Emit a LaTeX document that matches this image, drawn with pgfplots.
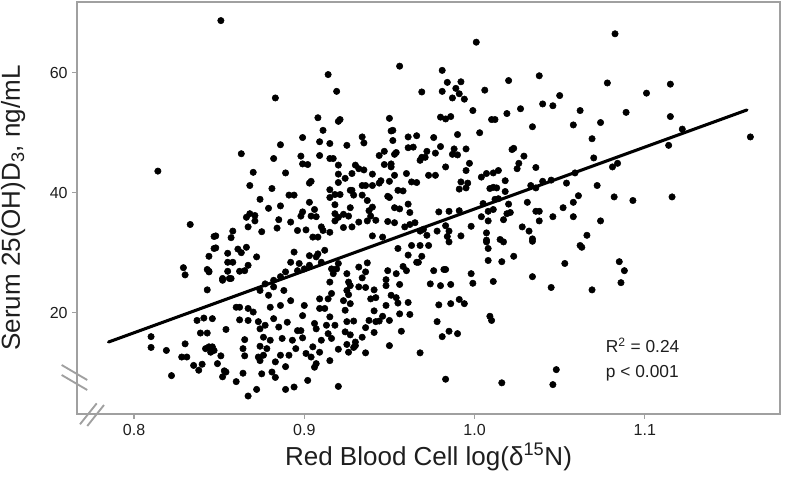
\documentclass[border=0pt]{standalone}
\usepackage{pgfplots}
\pgfplotsset{compat=1.18}
\usepackage{pgfplotstable}
\usepackage{fontspec}
\setmainfont{Liberation Sans}
\definecolor{axgray}{RGB}{160,160,160}
\definecolor{txt}{RGB}{30,30,30}
\pgfplotstableread{
x y
1.0825 66.5
1.001 65.1
0.956 61.1
0.914 59.7
0.981 60.4
1.038 59.5
0.883 55.8
0.919 56.9
0.984 58.4
0.992 58.5
0.981 56.9
0.989 57.4
0.991 56.5
0.987 55.8
0.994 55.6
0.969 56.8
1.006 57.1
1.020 58.7
1.078 58.3
1.115 58.1
1.101 56.6
1.050 56.2
1.040 54.8
1.046 54.5
1.027 54.0
1.019 53.2
0.999 53.7
1.062 53.7
1.089 53.4
1.115 52.7
1.074 51.7
1.058 51.3
1.034 51.0
1.010 52.2
1.012 52.2
0.980 52.6
0.983 52.3
0.986 52.7
0.950 52.4
0.920 51.9
0.921 52.2
0.908 52.5
0.886 48.0
0.882 45.7
0.899 49.2
0.911 50.4
0.909 48.5
0.915 48.2
0.925 47.9
0.909 46.2
0.915 45.7
0.917 45.7
0.898 46.1
0.899 44.8
0.902 44.7
0.920 44.6
0.889 43.3
0.881 40.7
0.874 38.9
0.891 39.6
0.894 39.6
0.904 41.9
0.903 41.6
0.920 43.1
0.920 41.7
0.924 42.4
0.928 43.2
0.930 44.6
0.932 44.0
0.935 43.8
0.934 49.3
0.935 48.3
0.940 43.1
0.934 41.2
0.936 41.2
0.927 40.4
0.928 40.4
0.915 40.5
0.918 39.7
0.940 41.2
0.944 46.2
0.947 46.9
0.951 50.3
0.952 50.4
0.952 48.7
0.947 44.7
0.951 44.8
0.951 44.3
0.953 46.4
0.954 46.7
0.950 41.9
0.953 42.9
0.945 42.0
0.944 41.6
0.961 49.3
0.966 49.5
0.976 49.2
0.961 47.5
0.964 47.6
0.969 45.9
0.968 45.4
0.971 45.9
0.980 47.7
0.977 46.6
0.972 46.9
0.960 43.2
0.963 41.8
0.966 41.7
0.983 44.3
0.973 42.9
0.977 42.9
0.987 46.4
0.990 46.3
0.988 47.3
0.995 47.3
0.990 49.7
0.997 44.9
0.995 43.7
0.992 41.8
0.996 41.6
0.995 40.8
0.991 40.6
1.003 50.0
1.023 47.4
1.022 47.2
1.029 46.1
1.026 44.9
1.025 44.0
1.036 44.2
1.004 42.6
1.007 43.2
1.011 43.3
1.014 43.7
1.018 42.0
1.009 40.7
1.011 40.9
1.013 40.8
1.018 40.2
1.033 41.2
1.036 40.8
1.040 41.9
1.045 42.1
1.054 41.6
1.059 43.3
1.070 45.8
1.069 49.0
1.072 41.2
1.081 44.3
1.084 44.9
1.114 47.9
1.122 50.6
1.162 49.3
1.082 39.3
1.093 38.7
1.116 39.3
1.061 39.5
1.058 38.4
1.058 36.0
1.052 37.5
1.046 36.0
1.038 36.9
1.036 36.9
1.038 35.3
1.031 38.4
1.032 33.6
1.028 34.3
1.020 38.1
1.021 36.7
1.019 36.5
1.014 39.0
1.012 38.9
1.017 35.5
1.011 37.2
1.008 36.9
1.008 35.3
1.004 36.0
1.007 33.3
1.015 32.2
1.007 32.1
0.998 34.4
1.005 38.2
0.991 37.0
0.985 36.9
0.979 36.8
0.992 32.8
0.983 34.5
0.985 33.6
0.984 32.7
0.978 33.6
1.066 32.9
1.074 35.3
1.034 32.3
0.965 35.0
0.962 34.7
0.959 34.3
0.970 33.9
0.972 32.9
0.968 33.6
0.953 37.5
0.956 37.3
0.955 40.4
0.958 40.3
0.961 38.1
0.962 36.7
0.953 35.0
0.949 35.2
0.950 39.2
0.949 39.4
0.940 37.6
0.938 37.0
0.939 36.1
0.937 35.3
0.929 39.6
0.934 39.6
0.937 38.7
0.932 35.1
0.928 34.3
0.926 36.1
0.927 37.5
0.921 39.7
0.918 38.0
0.918 36.5
0.923 36.4
0.920 35.9
0.923 34.2
0.918 35.3
0.915 39.2
0.910 34.3
0.911 33.7
0.907 36.0
0.906 37.2
0.903 38.4
0.899 36.8
0.898 36.1
0.904 36.1
0.892 35.1
0.896 33.7
0.885 35.5
0.884 34.1
0.901 33.8
0.886 37.8
0.879 37.4
0.875 33.5
0.942 35.4
0.946 32.6
0.940 32.8
0.915 33.4
0.905 32.6
0.908 32.6
1.062 31.2
1.063 30.9
1.034 31.9
1.017 31.8
1.007 31.8
1.008 30.7
1.008 28.7
1.016 28.5
1.023 29.4
1.011 25.2
1.034 26.0
1.045 24.2
1.053 28.2
1.069 23.8
1.085 28.5
1.088 27.0
1.086 25.0
0.998 26.5
0.999 24.9
1.009 19.4
1.010 18.7
0.976 27.0
0.982 27.2
0.983 27.2
0.974 24.8
0.980 24.5
0.986 24.7
0.979 21.3
0.986 21.5
0.991 22.2
0.994 21.5
0.978 18.5
0.981 16.0
0.985 16.9
0.990 16.5
0.968 13.3
0.983 8.9
1.016 8.3
1.046 8.0
1.048 10.5
0.966 28.4
0.967 28.4
0.969 29.4
0.963 31.2
0.968 31.2
0.973 31.2
0.985 31.8
0.961 29.6
0.955 30.7
0.958 27.7
0.960 27.0
0.954 26.5
0.956 24.7
0.954 22.5
0.955 21.6
0.961 21.7
0.962 19.7
0.956 19.8
0.957 16.9
0.950 14.5
0.949 27.0
0.948 25.5
0.948 24.5
0.951 22.9
0.948 21.2
0.950 18.7
0.946 19.4
0.944 18.6
0.941 20.3
0.942 18.5
0.938 18.7
0.941 16.7
0.936 17.5
0.934 15.9
0.936 13.3
0.930 15.1
0.930 14.5
0.939 22.3
0.942 22.5
0.941 23.8
0.936 24.2
0.932 24.3
0.934 25.8
0.936 26.8
0.932 27.6
0.937 28.3
0.925 26.5
0.926 25.1
0.927 24.5
0.925 23.7
0.926 23.0
0.923 22.0
0.927 21.5
0.924 20.4
0.925 18.5
0.929 18.6
0.924 16.8
0.927 16.3
0.925 14.7
0.929 14.2
0.926 13.4
0.920 7.7
0.915 12.0
0.920 13.9
0.919 27.3
0.916 27.3
0.920 28.2
0.917 26.5
0.915 25.1
0.916 23.2
0.914 22.3
0.912 20.7
0.915 19.3
0.913 17.9
0.918 17.9
0.914 16.5
0.916 15.7
0.909 22.3
0.909 20.7
0.906 18.2
0.907 17.3
0.910 15.4
0.905 14.3
0.909 13.4
0.904 12.6
0.907 11.5
0.906 10.9
0.901 13.2
0.898 17.0
0.902 8.7
0.894 7.6
0.889 7.2
0.900 21.2
0.899 19.5
0.896 17.0
0.899 15.8
0.893 15.4
0.895 14.0
0.891 12.9
0.889 11.0
0.886 12.9
0.883 11.8
0.881 10.1
0.883 9.2
0.880 15.4
0.878 14.0
0.876 12.9
0.874 12.0
0.875 9.8
0.894 30.1
0.892 28.4
0.897 28.2
0.896 27.0
0.900 27.3
0.903 27.9
0.903 29.5
0.907 29.3
0.908 29.8
0.912 30.4
0.910 28.4
0.889 26.8
0.886 26.0
0.882 25.4
0.877 24.8
0.874 23.7
0.879 22.9
0.882 24.3
0.888 23.7
0.892 22.0
0.886 21.2
0.880 20.9
0.882 19.0
0.890 18.4
0.885 17.6
0.887 15.7
0.877 17.9
0.874 17.3
0.876 15.9
0.851 68.7
0.814 43.6
0.863 46.5
0.870 43.4
0.868 41.2
0.833 34.7
0.866 35.9
0.868 36.5
0.871 36.2
0.867 34.3
0.871 35.3
0.848 32.8
0.858 33.6
0.857 32.5
0.829 27.5
0.830 26.3
0.844 29.4
0.848 30.8
0.855 29.9
0.861 30.6
0.866 30.9
0.863 30.0
0.855 28.4
0.858 28.4
0.855 26.9
0.862 26.9
0.865 27.0
0.867 27.9
0.872 29.3
0.844 26.9
0.852 25.4
0.856 25.7
0.843 23.8
0.862 20.9
0.867 20.7
0.870 20.1
0.867 18.7
0.873 18.5
0.862 18.8
0.810 16.0
0.810 14.2
0.819 13.7
0.830 14.8
0.828 12.6
0.831 12.6
0.835 11.2
0.840 11.4
0.838 10.4
0.822 9.5
0.837 18.7
0.841 19.1
0.846 19.0
0.839 16.6
0.843 16.6
0.854 17.2
0.842 14.0
0.844 14.3
0.846 14.3
0.845 13.4
0.847 13.7
0.851 12.8
0.849 11.5
0.853 10.3
0.854 10.1
0.852 9.3
0.860 8.5
0.860 20.9
0.847 32.7
0.847 30.7
0.843 27.2
0.844 26.8
0.852 25.7
0.857 25.7
0.865 15.5
0.864 14.0
0.865 12.8
0.873 12.6
0.874 14.4
0.864 9.9
0.872 7.2
0.867 6.1
}\pts
\begin{document}
\begin{tikzpicture}
\path[use as bounding box] (-57.75pt,-49.5pt) rectangle (534pt,310.5pt);
\begin{axis}[
  scale only axis,
  width=527.25pt, height=309pt,
  xmin=0.7665, xmax=1.1794,
  ymin=3.1, ymax=71.8,
  axis line style={draw=axgray, line width=1.1pt},
  tick style={draw=axgray, line width=1pt},
  tick align=outside,
  major tick length=3.5pt,
  tick pos=left,
  xtick={0.8,0.9,1.0,1.1},
  xticklabels={0.8,0.9,1.0,1.1},
  ytick={20,40,60},
  yticklabels={20,40,60},
  /pgf/number format/assume math mode=true,
  ticklabel style={font=\fontsize{12pt}{14pt}\selectfont, text=txt},
  xticklabel style={yshift=-1pt},
  label style={font=\fontsize{19.5pt}{22pt}\selectfont, text=txt},
  xlabel={Red Blood Cell log(δ\textsuperscript{15}N)},
  ylabel={Serum 25(OH)D\textsubscript{3}, ng/mL},
  xlabel style={yshift=2pt},
  ylabel style={yshift=11.5pt},
  clip=false,
]
\addplot[only marks, mark=*, mark size=2.4pt, black] table[x=x, y=y] {\pts};
\addplot[black, line width=2.3pt, line cap=round] coordinates {(0.785,15.1) (1.160,53.8)};
\node[anchor=base west, inner sep=0pt, font=\fontsize{13pt}{15pt}\selectfont, text=txt] at (axis cs:1.077,13.4) {R\textsuperscript{2} = 0.24};
\node[anchor=base west, inner sep=0pt, font=\fontsize{13pt}{15pt}\selectfont, text=txt] at (axis cs:1.077,9.27) {p < 0.001};
\end{axis}
\draw[axgray, line width=1.4pt] (-11.5pt,36.75pt) -- (7.7pt,25.5pt);
\draw[axgray, line width=1.4pt] (-11.5pt,29.25pt) -- (7.7pt,18pt);
\draw[axgray, line width=1.4pt] (2.25pt,-7.7pt) -- (14.8pt,8pt);
\draw[axgray, line width=1.4pt] (7.7pt,-9pt) -- (20.25pt,6.75pt);
\end{tikzpicture}
\end{document}
